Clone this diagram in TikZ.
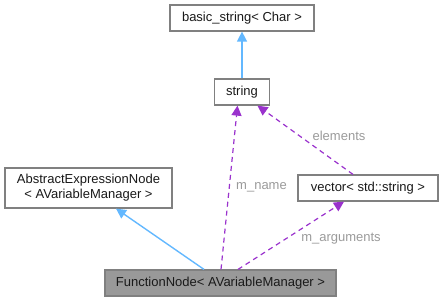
\documentclass[tikz,border=0pt]{standalone}
\usepackage{fontspec}
\setmainfont{Liberation Sans}
\usetikzlibrary{arrows.meta}
\definecolor{edgeblue}{HTML}{63B8FF}
\definecolor{edgepurple}{HTML}{9A32CD}
\definecolor{boxborder}{HTML}{808080}
\definecolor{labelgray}{HTML}{9A9A9A}
\definecolor{fnfill}{HTML}{999999}
\tikzset{
  box/.style={draw=boxborder, line width=1.2pt, fill=white, rectangle, inner sep=0pt,
    minimum height=26pt, font=\fontsize{13}{15}\selectfont, align=center, text=black!90},
  inh/.style={draw=edgeblue, line width=1.4pt, -{Triangle[length=10pt,width=10pt]}},
  use/.style={draw=edgepurple, line width=1.2pt, dash pattern=on 5pt off 4pt,
    -{Triangle[length=10pt,width=10pt]}},
  elabel/.style={text=labelgray, font=\fontsize{13}{15}\selectfont, inner sep=0pt}
}
\begin{document}
\begin{tikzpicture}[x=1pt,y=-1pt]
\useasboundingbox (0,0) rectangle (443,301);
\node[box, minimum width=144pt] (bs) at (242,18) {basic\_string< Char >};
\node[box, minimum width=55pt] (str) at (242,92) {string};
\node[box, minimum width=167pt, minimum height=40pt] (abs) at (88.5,188) {AbstractExpressionNode\\< AVariableManager >};
\node[box, minimum width=140pt] (vec) at (368,188) {vector< std::string >};
\node[box, minimum width=231pt, fill=fnfill] (fn) at (220.5,283) {FunctionNode< AVariableManager >};

\draw[inh] (str.north) -- (str.north |- bs.south);
\draw[inh] ([xshift=-16.5pt]fn.north) -- ([xshift=27.5pt]abs.south);
\draw[use] ([xshift=0.5pt]fn.north) -- ([xshift=-4.5pt]str.south);
\draw[use] ([xshift=17.5pt]fn.north) -- ([xshift=-24pt]vec.south);
\draw[use] ([xshift=-15pt]vec.north) -- ([xshift=15.5pt]str.south);

\node[elabel] (lname) at (261.5,187) {m\_name};
\node[elabel] (largs) at (341,239) {m\_arguments};
\node[elabel] (lelem) at (339,136) {elements};
\end{tikzpicture}
\end{document}
